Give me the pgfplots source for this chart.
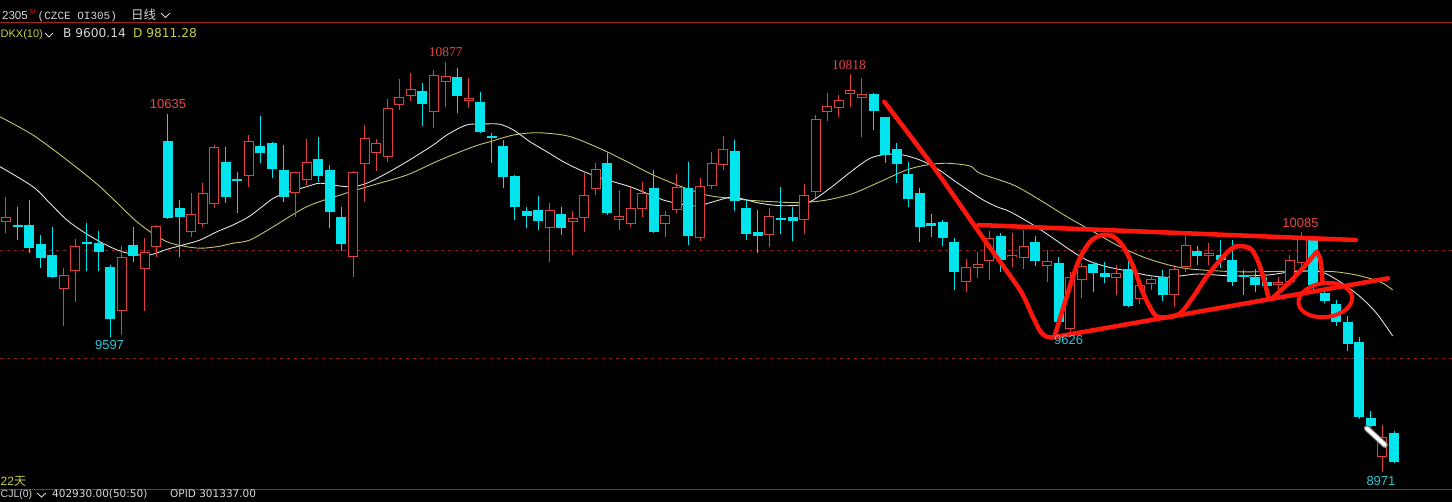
\documentclass[border=0pt]{standalone}
\usepackage{pgfplots}
\pgfplotsset{compat=1.18}
\usepackage{pgfplotstable}
\usepackage{fontspec}
\setmainfont{Liberation Sans}
\newfontfamily\cjk{Noto Sans CJK SC}
\newfontfamily\serifnum{Liberation Serif}
\newfontfamily\monof{Liberation Mono}
\newfontfamily\dejavu{DejaVu Sans}

\definecolor{upc}{RGB}{222,64,64}
\definecolor{dnc}{RGB}{0,228,238}
\definecolor{annot}{RGB}{255,22,12}
\definecolor{maw}{RGB}{225,225,225}
\definecolor{may}{RGB}{196,196,110}
\definecolor{gridr}{RGB}{150,25,25}
\definecolor{sepr}{RGB}{165,35,30}
\definecolor{lblr}{RGB}{232,72,72}
\definecolor{lblc}{RGB}{40,200,210}
\definecolor{txtg}{RGB}{215,215,215}
\definecolor{txty}{RGB}{205,205,70}

\pgfplotstableread{
i o h l c
0 10133 10247 10079 10157
1 10118 10203 10048 10110
2 10118 10234 9986 10012
3 10028 10072 9917 9963
4 9980 10107 9872 9878
5 9820 9917 9648 9885
6 9906 10053 9760 10019
7 10040 10126 9904 10030
8 10033 10092 9904 9994
9 9924 9930 9597 9680
10 9718 10020 9605 9971
11 10024 10110 9947 9974
12 9913 10056 9718 9992
13 10017 10118 9971 10113
14 10508 10635 10144 10152
15 10196 10234 9971 10157
16 10087 10266 10064 10169
17 10123 10315 10110 10266
18 10216 10490 10196 10482
19 10412 10482 10219 10250
20 10333 10366 10175 10324
21 10346 10536 10293 10508
22 10485 10625 10408 10451
23 10500 10505 10335 10378
24 10374 10490 10226 10250
25 10266 10366 10157 10363
26 10327 10516 10304 10410
27 10423 10528 10319 10347
28 10374 10397 10103 10177
29 10157 10203 9999 10030
30 9968 10370 9878 10366
31 10400 10583 10226 10521
32 10454 10516 10371 10498
33 10436 10702 10412 10663
34 10676 10795 10653 10712
35 10719 10823 10696 10749
36 10741 10777 10578 10680
37 10642 10839 10568 10815
38 10784 10877 10665 10811
39 10805 10846 10640 10719
40 10696 10800 10661 10707
41 10688 10738 10544 10550
42 10532 10544 10405 10521
43 10485 10513 10289 10343
44 10346 10350 10141 10200
45 10181 10203 10103 10162
46 10188 10253 10095 10138
47 10103 10219 9947 10188
48 10169 10203 10072 10103
49 10133 10181 9979 10150
50 10150 10358 10087 10257
51 10284 10405 10257 10377
52 10405 10454 10165 10172
53 10141 10281 10095 10160
54 10123 10296 10110 10196
55 10192 10319 10157 10266
56 10289 10374 10079 10087
57 10121 10181 10064 10165
58 10188 10354 10172 10296
59 10292 10412 10025 10067
60 10056 10338 10045 10299
61 10299 10459 10285 10405
62 10399 10534 10374 10471
63 10463 10513 10181 10230
64 10198 10239 10048 10076
65 10087 10188 9986 10067
66 10072 10196 10017 10160
67 10150 10296 10076 10141
68 10157 10203 10045 10138
69 10141 10309 10076 10257
70 10273 10629 10242 10609
71 10645 10730 10601 10673
72 10663 10722 10621 10699
73 10726 10818 10668 10746
74 10707 10800 10528 10727
75 10727 10730 10560 10648
76 10619 10622 10408 10443
77 10471 10500 10315 10402
78 10355 10412 10203 10239
79 10266 10289 10040 10107
80 10126 10169 10064 10113
81 10130 10141 10020 10059
82 10040 10056 9816 9901
83 9854 9960 9808 9924
84 9920 9994 9870 9936
85 9951 10090 9862 10056
86 10069 10079 9901 9955
87 9968 10079 9923 9979
88 9965 10095 9913 10021
89 10040 10065 9926 9951
90 9929 10002 9853 9951
91 9943 9969 9661 9668
92 9636 9901 9626 9878
93 9862 9940 9777 9928
94 9937 9947 9808 9896
95 9896 9947 9848 9876
96 9870 9932 9792 9896
97 9912 9979 9738 9743
98 9773 9862 9751 9839
99 9844 9886 9816 9866
100 9878 9909 9766 9792
101 9792 9932 9738 9912
102 9924 10067 9901 10025
103 9999 10020 9932 9974
104 9972 10034 9932 9990
105 9979 10048 9920 9955
106 9955 10048 9834 9854
107 9886 9909 9792 9878
108 9874 9912 9808 9839
109 9854 9878 9830 9834
110 9837 9878 9816 9854
111 9854 9979 9848 9955
112 9940 10085 9925 10052
113 10052 10056 9820 9839
114 9803 9820 9754 9766
115 9751 9769 9648 9668
116 9668 9695 9534 9565
117 9575 9596 9215 9227
118 9219 9255 9180 9185
119 9041 9188 8971 9134
120 9150 9160 9010 9017
}\candles

\pgfplotstableread{
i p
-0.52 10389
2.33 10296
3.80 10219
5.27 10141
6.66 10087
8.13 10040
9.60 10002
10.98 9982
12.45 9979
13.92 10005
15.30 10025
16.77 10048
18.24 10087
19.62 10118
21.09 10160
23.11 10242
24.55 10273
26.00 10296
27.15 10312
28.88 10299
30.03 10296
31.18 10312
32.62 10350
34.64 10412
36.94 10490
38.10 10536
39.83 10583
41.56 10588
42.71 10586
43.86 10560
45.30 10505
46.75 10459
48.18 10412
49.62 10374
51.07 10343
52.50 10319
53.95 10296
55.39 10265
56.83 10234
58.27 10216
59.71 10206
61.15 10226
62.59 10247
63.46 10242
65.19 10219
66.92 10208
68.64 10211
69.79 10234
71.24 10289
73.25 10374
74.70 10428
76.14 10447
77.58 10443
79.02 10420
80.46 10382
81.90 10327
83.34 10274
84.49 10234
85.65 10203
86.80 10180
88.81 10118
90.54 10056
91.99 10002
93.43 9955
95.16 9924
96.89 9905
98.62 9885
100.35 9875
102.08 9885
103.23 9890
106.10 9881
108.99 9885
111.29 9901
113.60 9901
115.33 9854
117.06 9785
118.50 9707
119.88 9602
}\mawhite

\pgfplotstableread{
i p
-0.52 10621
2.33 10536
5.27 10420
8.13 10296
10.98 10149
12.45 10087
13.92 10040
15.30 10020
16.77 10010
18.24 10017
19.62 10033
21.09 10048
23.11 10110
26.00 10203
28.88 10257
31.75 10304
34.64 10350
37.52 10420
40.40 10482
41.84 10505
43.86 10536
45.88 10547
48.18 10536
49.62 10513
51.93 10459
53.95 10405
55.96 10350
58.27 10299
60.58 10257
62.59 10242
64.04 10234
66.34 10226
68.64 10222
70.95 10234
73.25 10265
75.56 10319
77.87 10374
79.60 10397
81.33 10405
83.34 10392
84.21 10358
87.09 10304
89.39 10234
91.70 10157
94.00 10087
96.31 10017
98.62 9963
100.92 9927
102.65 9912
106.10 9901
108.99 9901
111.88 9904
114.75 9901
116.77 9885
118.79 9854
119.88 9816
}\mayellow

\begin{document}
\begin{tikzpicture}
\useasboundingbox (0,0) rectangle (1452pt,502pt);
\fill[black] (0,0) rectangle (1452pt,502pt);
\begin{axis}[
  at={(0,0)}, anchor=south west,
  scale only axis, width=1452pt, height=502pt,
  xmin=-0.5187, xmax=125.01, ymin=8830.2, ymax=11164,
  axis background/.style={fill=black},
  axis line style={draw=none},
  xtick=\empty, ytick={9500,10000}, yticklabels={}, major tick length=0pt,
  ymajorgrids, grid style={gridr, dash pattern=on 3pt off 4pt, line width=0.8pt},
]
% moving averages
\addplot[may, line width=0.9pt, smooth, mark=none] table[x=i,y=p] {\mayellow};
\addplot[maw, line width=0.9pt, smooth, mark=none] table[x=i,y=p] {\mawhite};

% wicks
\addplot[draw=none, mark=none, forget plot,
  error bars/.cd, y dir=plus, y explicit, error mark=none,
  error bar style={draw=dnc, line width=1pt}]
  table[x=i, y=l, y error plus expr={(\thisrow{o}>\thisrow{c})*(\thisrow{h}-\thisrow{l})}] {\candles};
\addplot[draw=none, mark=none, forget plot,
  error bars/.cd, y dir=plus, y explicit, error mark=none,
  error bar style={draw=upc, line width=1pt}]
  table[x=i, y=l, y error plus expr={(\thisrow{c}>\thisrow{o})*(\thisrow{h}-\thisrow{l})}] {\candles};
% falling bodies
\addplot[draw=none, mark=none, forget plot,
  error bars/.cd, y dir=plus, y explicit, error mark=none,
  error bar style={draw=dnc, line width=10pt}]
  table[x=i, y=c, y error plus expr={max(\thisrow{o}-\thisrow{c},0)}] {\candles};
% rising bodies (hollow)
\addplot[draw=none, mark=none, forget plot,
  error bars/.cd, y dir=plus, y explicit, error mark=none,
  error bar style={draw=upc, line width=10pt}]
  table[x=i, y=o, y error plus expr={max(\thisrow{c}-\thisrow{o},0)}] {\candles};
\addplot[draw=none, mark=none, forget plot,
  error bars/.cd, y dir=plus, y explicit, error mark=none,
  error bar style={draw=black, line width=8pt}]
  table[x=i, y expr={\thisrow{o}+4.65}, y error plus expr={max(\thisrow{c}-\thisrow{o}-9.3,0)}] {\candles};

% hand-drawn annotations
\addplot[annot, line width=4.5pt, smooth, tension=0.4, line cap=round, line join=round, mark=none] coordinates {
 (75.93,10691) (80.17,10389) (84.49,10056) (87.66,9816) (88.70,9700) (89.39,9625) (89.91,9600) (90.43,9595)};
\addplot[annot, line width=4.5pt, line cap=round, mark=none] coordinates {(90.43,9595) (119.48,9870)};
\addplot[annot, line width=4.5pt, line cap=round, mark=none] coordinates {(84.06,10118) (116.71,10048)};
\addplot[annot, line width=4.5pt, smooth, tension=0.5, line cap=round, line join=round, mark=none] coordinates {
 (90.69,9607) (91.70,9785) (92.70,9947) (93.72,10040) (94.73,10071) (95.73,10064) (96.60,10017)
 (97.46,9924) (98.32,9800) (99.33,9700) (100.35,9689) (101.50,9707) (102.65,9785) (103.80,9878)
 (105.24,9971) (106.25,10017) (107.55,10010) (108.26,9947) (108.84,9847) (109.13,9782)};
\addplot[annot, line width=4.5pt, line cap=round, line join=round, mark=none] coordinates {
 (109.44,9776) (111.00,9853) (112.29,9927) (113.32,9994) (113.61,9965) (113.74,9909) (113.83,9848)};
\draw[annot, line width=4pt, rotate around={7:(axis cs:114.06,9769)}] (axis cs:114.06,9769) ellipse [x radius=27pt, y radius=17pt];
% pen cursor
\draw[gray, line width=6pt, line cap=round] (axis cs:117.64,9173) -- (axis cs:119.22,9095);
\draw[white, line width=3.8pt, line cap=round] (axis cs:117.64,9173) -- (axis cs:119.22,9095);

% value labels
\node[lblr, font=\fontsize{13}{13}\selectfont] at (axis cs:14.0,10679) {10635};
\node[lblc, font=\fontsize{13}{13}\selectfont] at (axis cs:8.95,9560) {9597};
\node[lblr, font=\serifnum\fontsize{13.5}{13.5}\selectfont] at (axis cs:38.02,10922) {10877};
\node[lblr, font=\serifnum\fontsize{13.5}{13.5}\selectfont] at (axis cs:72.88,10862) {10818};
\node[lblr, font=\fontsize{13}{13}\selectfont] at (axis cs:111.91,10126) {10085};
\node[lblc, font=\fontsize{13}{13}\selectfont] at (axis cs:91.87,9583) {9626};
\node[lblc, font=\fontsize{13}{13}\selectfont] at (axis cs:118.87,8928) {8971};
\end{axis}

% header and footer
\draw[sepr, line width=1.2pt] (0,479.3pt) -- (1452pt,479.3pt);
\draw[sepr, line width=1.2pt] (0,12.7pt) -- (1452pt,12.7pt);
\node[txtg, anchor=base west, inner sep=0pt, font=\fontsize{11.5}{12}\selectfont] at (2pt,482.5pt) {2305};
\node[red, anchor=base west, inner sep=0pt, font=\fontsize{7}{8}\selectfont] at (30pt,487.5pt) {M};
\node[txtg, anchor=base west, inner sep=0pt, font=\monof\fontsize{11}{12}\selectfont] at (37.5pt,482.5pt) {(CZCE OI305)};
\node[txtg, anchor=base west, inner sep=0pt, font=\cjk\fontsize{12.5}{13}\selectfont] at (131pt,482.5pt) {日线};
\draw[txtg, line width=0.9pt] (161pt,489pt) -- (165.5pt,484.5pt) -- (170pt,489pt);

\node[txty, anchor=base west, inner sep=0pt, font=\fontsize{11}{13}\selectfont] at (0.5pt,464.3pt) {DKX(10)};
\draw[txtg, line width=0.9pt] (45pt,469pt) -- (49pt,465pt) -- (53pt,469pt);
\node[txtg, anchor=base west, inner sep=0pt, font=\dejavu\fontsize{12.2}{13}\selectfont] at (63pt,464.3pt) {B 9600.14};
\node[txty, anchor=base west, inner sep=0pt, font=\dejavu\fontsize{12.2}{13}\selectfont] at (133pt,464.3pt) {D 9811.28};

\node[txty, anchor=base west, inner sep=0pt, font=\fontsize{12}{13}\selectfont] at (0.5pt,16pt) {22{\cjk 天}};
\node[txtg, anchor=base west, inner sep=0pt, font=\fontsize{10.5}{12}\selectfont] at (0.5pt,4pt) {CJL(0)};
\draw[txtg, line width=0.9pt] (37pt,9pt) -- (41.5pt,5pt) -- (46pt,9pt);
\node[txtg, anchor=base west, inner sep=0pt, font=\dejavu\fontsize{10.5}{12}\selectfont] at (52pt,4pt) {402930.00(50:50)};
\node[txtg, anchor=base west, inner sep=0pt, font=\dejavu\fontsize{10.5}{12}\selectfont] at (170pt,4pt) {OPID 301337.00};
\end{tikzpicture}
\end{document}
